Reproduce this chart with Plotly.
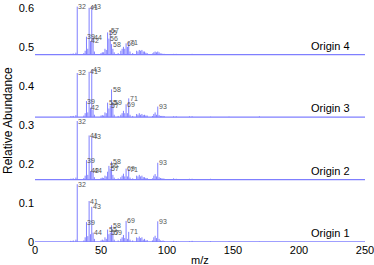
import plotly.graph_objects as go

# ---- data ----
MZ = [27, 28, 29, 31, 32, 37, 38, 39, 40, 41, 42, 43, 44, 45, 50, 51, 52, 53, 54,
      55, 56, 57, 58, 59, 60, 63, 65, 66, 67, 68, 69, 70, 71, 72, 74, 77, 78, 79,
      80, 81, 82, 83, 84, 85, 89, 90, 91, 92, 93, 94, 95, 96, 97, 98, 105, 107,
      117, 119, 133, 147, 170]

origin1 = [0.003, 0.002, 0.004, 0.006, 0.148, 0.004, 0.012, 0.051, 0.015, 0.105, 0.020, 0.090, 0.024, 0.008, 0.004, 0.006, 0.004, 0.012, 0.008,
           0.032, 0.020, 0.024, 0.043, 0.024, 0.006, 0.004, 0.008, 0.012, 0.018, 0.010, 0.054, 0.008, 0.026, 0.006, 0.004, 0.012, 0.010, 0.014,
           0.010, 0.012, 0.006, 0.008, 0.004, 0.005, 0.004, 0.012, 0.016, 0.010, 0.053, 0.008, 0.004, 0.003, 0.004, 0.002, 0.003, 0.002,
           0.002, 0.003, 0.002, 0.002, 0.001]
origin2 = [0.002, 0.002, 0.003, 0.005, 0.150, 0.004, 0.010, 0.050, 0.012, 0.113, 0.022, 0.110, 0.022, 0.006, 0.004, 0.005, 0.004, 0.010, 0.008,
           0.020, 0.035, 0.028, 0.046, 0.012, 0.005, 0.003, 0.006, 0.010, 0.015, 0.008, 0.028, 0.008, 0.027, 0.005, 0.003, 0.010, 0.008, 0.012,
           0.008, 0.010, 0.006, 0.006, 0.004, 0.004, 0.003, 0.010, 0.014, 0.008, 0.043, 0.006, 0.004, 0.003, 0.003, 0.002, 0.003, 0.002,
           0.002, 0.002, 0.002, 0.001, 0.001]
origin3 = [0.002, 0.002, 0.003, 0.005, 0.113, 0.004, 0.010, 0.041, 0.012, 0.116, 0.024, 0.122, 0.018, 0.006, 0.004, 0.005, 0.004, 0.012, 0.010,
           0.037, 0.022, 0.030, 0.071, 0.037, 0.006, 0.003, 0.006, 0.010, 0.016, 0.010, 0.033, 0.010, 0.048, 0.006, 0.003, 0.008, 0.006, 0.010,
           0.006, 0.008, 0.005, 0.006, 0.004, 0.004, 0.003, 0.008, 0.012, 0.006, 0.027, 0.005, 0.003, 0.003, 0.003, 0.002, 0.002, 0.002,
           0.002, 0.002, 0.001, 0.001, 0.002]
origin4 = [0.002, 0.002, 0.003, 0.005, 0.123, 0.004, 0.010, 0.046, 0.015, 0.120, 0.035, 0.124, 0.044, 0.008, 0.004, 0.006, 0.006, 0.015, 0.012,
           0.057, 0.041, 0.061, 0.027, 0.015, 0.006, 0.004, 0.010, 0.015, 0.020, 0.015, 0.029, 0.020, 0.031, 0.008, 0.004, 0.010, 0.008, 0.012,
           0.010, 0.012, 0.008, 0.008, 0.005, 0.004, 0.003, 0.006, 0.008, 0.006, 0.008, 0.006, 0.003, 0.003, 0.002, 0.002, 0.002, 0.002,
           0.001, 0.002, 0.001, 0.001, 0.001]

series_names = ["Origin 1", "Origin 2", "Origin 3", "Origin 4"]
series_values = [origin1, origin2, origin3, origin4]
offsets = [0.0, 0.16, 0.32, 0.48]
labeled_mz = [
    [32, 39, 41, 43, 44, 55, 57, 58, 59, 69, 71, 93],
    [32, 39, 41, 42, 43, 44, 56, 57, 58, 69, 71, 93],
    [32, 39, 41, 42, 43, 55, 57, 58, 59, 69, 71, 93],
    [32, 39, 41, 42, 43, 44, 55, 56, 57, 58, 69, 71],
]

x_ticks = [0, 50, 100, 150, 200, 250]
y_ticks = [0, 0.1, 0.2, 0.3, 0.4, 0.5, 0.6]
X_RANGE = [0, 250]
Y_RANGE = [0, 0.62]

LINE = "#7f7fff"
FONT = "Arial, Liberation Sans, sans-serif"

fig = go.Figure()
annotations = []
for name, vals, off, labs in zip(series_names, series_values, offsets, labeled_mz):
    xs, ys = [], []
    for m, h in zip(MZ, vals):
        xs += [m, m, None]
        ys += [off, off + h, None]
    fig.add_trace(go.Scatter(x=xs, y=ys, mode="lines", line=dict(color=LINE, width=1),
                             hoverinfo="skip", showlegend=False))
    fig.add_trace(go.Scatter(x=X_RANGE, y=[off, off], mode="lines",
                             line=dict(color=LINE, width=1.3), hoverinfo="skip", showlegend=False))
    for m in labs:
        h = vals[MZ.index(m)]
        annotations.append(dict(x=m, y=off + h, text=str(m), showarrow=False,
                                xanchor="left", yanchor="middle", xshift=-1,
                                font=dict(size=7, color="#555555", family=FONT)))
    annotations.append(dict(x=240, y=off, text=name, showarrow=False,
                            xanchor="right", yanchor="bottom", yshift=1,
                            font=dict(size=11, color="black", family=FONT)))

annotations.append(dict(x=0.5, y=0, xref="paper", yref="paper", text="m/z", showarrow=False,
                        xanchor="center", yanchor="middle", yshift=-18,
                        font=dict(size=11, color="black", family=FONT)))
annotations.append(dict(x=0, y=0.5, xref="paper", yref="paper", text="Relative Abundance",
                        showarrow=False, textangle=-90, xanchor="center", yanchor="middle",
                        xshift=-27, font=dict(size=12, color="black", family=FONT)))

fig.update_layout(
    width=374, height=265,
    margin=dict(l=35, r=5, t=0, b=23),
    paper_bgcolor="white", plot_bgcolor="white",
    annotations=annotations,
    font=dict(family=FONT, size=11, color="black"),
)
fig.update_xaxes(range=X_RANGE, tickvals=x_ticks, ticktext=[str(v) for v in x_ticks],
                 showgrid=False, zeroline=False, showline=False, ticks="",
                 ticklabeloverflow="allow",
                 tickfont=dict(size=11, color="black"))
fig.update_yaxes(range=Y_RANGE, tickvals=y_ticks, ticktext=["0"] + [f"{v:.1f}" for v in y_ticks[1:]],
                 showgrid=False, zeroline=False, showline=False, ticks="",
                 tickfont=dict(size=11, color="black"))

fig.write_html("out.html", config={"displayModeBar": False},
               post_script="document.body.style.margin='0';")
